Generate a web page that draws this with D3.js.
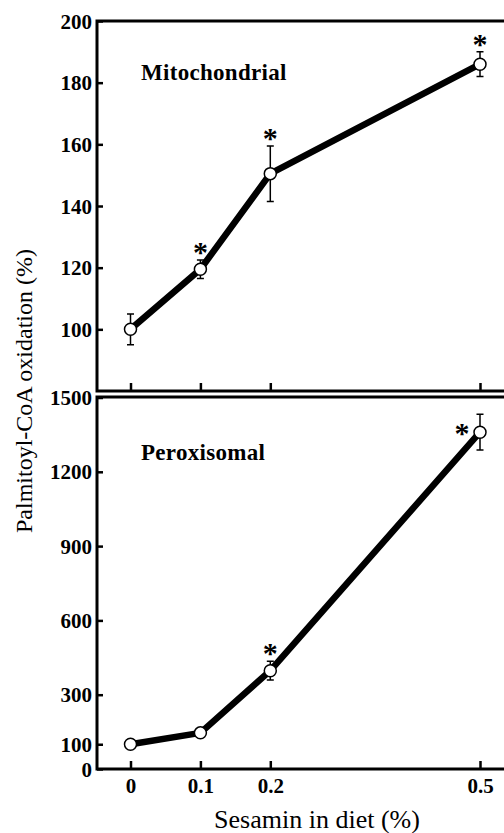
<!DOCTYPE html>
<html>
<head>
<meta charset="utf-8">
<script src="https://cdn.jsdelivr.net/npm/d3@7"></script>
<style>
    body { margin: 0; background: #fff; }
    svg text { font-family: "Liberation Serif", "Times New Roman", "DejaVu Serif", serif !important; fill: #000; }
</style>
</head>
<body>
<svg id="chart" width="504" height="833"></svg>
<script>
// sesamin dose in diet (%)
const doses = [0, 0.1, 0.2, 0.5]
const doseLabels = ['0', '0.1', '0.2', '0.5']

// mitochondrial palmitoyl-CoA oxidation (% of control)
const mitoValues = [100, 119.5, 150.5, 186]
const mitoErrors = [5, 3, 9, 4]
const mitoSignificant = [false, true, true, true]
const mitoTicks = [100, 120, 140, 160, 180, 200]

// peroxisomal palmitoyl-CoA oxidation (% of control)
const peroxValues = [100, 146, 397, 1360]
const peroxErrors = [0, 0, 38, 72]
const peroxSignificant = [false, false, true, true]
const peroxTicks = [0, 100, 300, 600, 900, 1200, 1500]

const serif = '"Liberation Serif", "Times New Roman", serif'
const svg = d3.select('#chart')
const left = 97
const right = 510

const x = d3.scaleLinear().domain([0, 0.5]).range([130.5, 480])

const panels = [
    {
        name: 'Mitochondrial',
        values: mitoValues,
        errors: mitoErrors,
        significant: mitoSignificant,
        ticks: mitoTicks,
        y: d3.scaleLinear().domain([80, 200]).range([391, 21]),
        top: 21,
        bottom: 391,
        labelY: 80,
        showX: false
    },
    {
        name: 'Peroxisomal',
        values: peroxValues,
        errors: peroxErrors,
        significant: peroxSignificant,
        ticks: peroxTicks,
        y: d3.scaleLinear().domain([0, 1500]).range([769, 397.5]),
        top: 397,
        bottom: 769,
        labelY: 460,
        showX: true
    }
]

panels.forEach(p => {
    const g = svg.append('g')
    const rows = doses.map((d, i) => ({
        dose: d,
        value: p.values[i],
        err: p.errors[i],
        star: p.significant[i]
    }))

    // y axis, ticks pointing inward
    const yAxis = d3.axisLeft(p.y).tickValues(p.ticks).tickSize(-6).tickPadding(5)
        .tickFormat(d3.format('d'))
    const gy = g.append('g').attr('transform', `translate(${left},0)`).call(yAxis)
        .attr('font-family', serif)
    gy.select('.domain').remove()
    gy.selectAll('.tick line').attr('stroke', '#000').attr('stroke-width', 2.5)
    gy.selectAll('.tick text')
        .style('font-size', '21px')
        .style('font-weight', 'bold')
        .attr('dy', '0.34em')

    // x axis, ticks pointing up
    const xAxis = d3.axisBottom(x).tickValues(doses).tickSize(-8).tickPadding(9)
        .tickFormat((d, i) => p.showX ? doseLabels[i] : '')
    const gx = g.append('g').attr('transform', `translate(0,${p.bottom})`).call(xAxis)
        .attr('font-family', serif)
    gx.select('.domain').remove()
    gx.selectAll('.tick line').attr('stroke', '#000').attr('stroke-width', 2.5)
    gx.selectAll('.tick text')
        .style('font-size', '21px')
        .style('font-weight', 'bold')

    // frame: left, top, bottom
    g.append('path')
        .attr('d', `M ${right} ${p.top} H ${left} V ${p.bottom} H ${right}`)
        .attr('fill', 'none')
        .attr('stroke', '#000')
        .attr('stroke-width', 3)

    g.append('text')
        .attr('x', 141)
        .attr('y', p.labelY)
        .style('font-family', serif)
        .style('font-size', '23px')
        .style('font-weight', 'bold')
        .style('letter-spacing', '0.3px')
        .text(p.name)

    const line = d3.line().x(d => x(d.dose)).y(d => p.y(d.value))
    g.append('path')
        .datum(rows)
        .attr('d', line)
        .attr('fill', 'none')
        .attr('stroke', '#000')
        .attr('stroke-width', 6.5)
        .attr('stroke-linejoin', 'round')

    const bars = g.selectAll('.err').data(rows.filter(d => d.err > 0)).join('g')
    bars.append('path')
        .attr('d', d => {
            const cx = x(d.dose)
            const y1 = p.y(d.value + d.err)
            const y2 = p.y(d.value - d.err)
            return `M ${cx} ${y1} V ${y2} M ${cx - 3.5} ${y1} H ${cx + 3.5} M ${cx - 3.5} ${y2} H ${cx + 3.5}`
        })
        .attr('stroke', '#000')
        .attr('stroke-width', 1.5)
        .attr('fill', 'none')

    g.selectAll('circle').data(rows).join('circle')
        .attr('cx', d => x(d.dose))
        .attr('cy', d => p.y(d.value))
        .attr('r', 6)
        .attr('fill', '#fff')
        .attr('stroke', '#000')
        .attr('stroke-width', 1.5)

    // asterisks above the error bar, or to the left when too close to the frame
    g.selectAll('.star').data(rows.filter(d => d.star)).join('text')
        .attr('class', 'star')
        .attr('text-anchor', 'middle')
        .style('font-family', serif)
        .style('font-size', '30px')
        .style('font-weight', 'bold')
        .each(function (d) {
            const cx = x(d.dose)
            let sy = p.y(d.value + d.err) - 14
            let sx = cx
            if (sy - 8 < p.top) {
                sx = cx - 18
                sy = p.y(d.value) - 5
            }
            d3.select(this).attr('x', sx).attr('y', sy + 16)
        })
        .text('*')
})

svg.append('text')
    .attr('transform', 'translate(32,391) rotate(-90)')
    .attr('text-anchor', 'middle')
    .style('font-family', serif)
    .style('font-size', '24px')
    .text('Palmitoyl-CoA oxidation (%)')

svg.append('text')
    .attr('x', 317)
    .attr('y', 828)
    .attr('text-anchor', 'middle')
    .style('font-family', serif)
    .style('font-size', '26px')
    .text('Sesamin in diet (%)')
</script>
</body>
</html>
